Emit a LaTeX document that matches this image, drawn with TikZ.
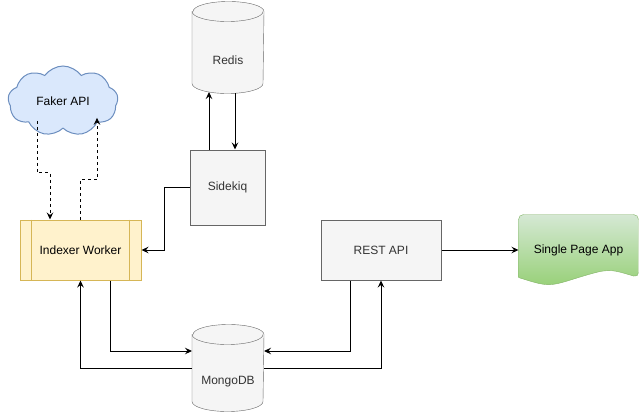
\documentclass[tikz,border=0pt]{standalone}
\usepackage{fontspec}
\setmainfont{Liberation Sans}
\usetikzlibrary{shapes.symbols,arrows.meta,backgrounds}
\definecolor{grayfill}{HTML}{F5F5F5}
\definecolor{grayline}{HTML}{666666}
\definecolor{graytext}{HTML}{333333}
\definecolor{cloudfill}{HTML}{DAE8FC}
\definecolor{cloudline}{HTML}{6C8EBF}
\definecolor{workerfill}{HTML}{FFF2CC}
\definecolor{workerline}{HTML}{D6B656}
\definecolor{spatop}{HTML}{D5E8D4}
\definecolor{spabottom}{HTML}{97D077}
\definecolor{spaline}{HTML}{82B366}
\begin{document}
\begin{tikzpicture}[x=1pt,y=-1pt,line width=1pt,
  font=\fontsize{12}{14}\selectfont,
  graybox/.style={draw=grayline,fill=grayfill,text=graytext,inner sep=0pt},
  dbbox/.style={inner sep=0pt,minimum width=71pt},
  arr/.style={-{Stealth[length=7pt,width=6.5pt,inset=2.5pt]}},
  dasharr/.style={arr,dash pattern=on 3pt off 3pt}]
\useasboundingbox (0,0) rectangle (639,415);

\node[dbbox,minimum height=91pt,label={[text=graytext,yshift=-12.5pt]center:Redis}] (redis) at (228,47.5) {};
\node[dbbox,minimum height=86pt,label={[text=graytext,yshift=-14pt]center:MongoDB}] (mongo) at (228,368) {};
\begin{scope}[on background layer]
\foreach \db in {redis,mongo} {
  \path[graybox] ([yshift=-10pt]\db.north west) -- ([yshift=10pt]\db.south west)
    arc[start angle=180,end angle=360,x radius=35.5pt,y radius=10pt]
    -- ([yshift=-10pt]\db.north east)
    arc[start angle=0,end angle=180,x radius=35.5pt,y radius=10pt] -- cycle;
  \draw[grayline] ([yshift=-10pt]\db.north west)
    arc[start angle=180,end angle=360,x radius=35.5pt,y radius=10pt];
}
\end{scope}
\node[graybox,minimum width=75pt,minimum height=75pt] (sidekiq) at (227.5,187.5) {Sidekiq};
\node[cloud,cloud puffs=9,cloud puff arc=110,aspect=1.6,draw=cloudline,fill=cloudfill,inner sep=0pt,minimum width=110pt,minimum height=70pt] (faker) at (63,101) {Faker API};
\node[draw=workerline,fill=workerfill,minimum width=121pt,minimum height=60pt] (indexer) at (80.5,250) {Indexer Worker};
\draw[workerline] ([xshift=12pt]indexer.north west) -- ([xshift=12pt]indexer.south west);
\draw[workerline] ([xshift=-12pt]indexer.north east) -- ([xshift=-12pt]indexer.south east);
\node[graybox,minimum width=120pt,minimum height=60pt] (rest) at (381,250) {REST API};
\node[minimum width=119pt,minimum height=70pt] (spa) at (578.5,250) {Single Page App};
\begin{scope}[on background layer]
\path[draw=spaline,top color=spatop,bottom color=spabottom] ([yshift=8pt]spa.south west) [rounded corners=5pt] -- (spa.north west) -- (spa.north east) -- ([yshift=8pt]spa.south east) [sharp corners]
  .. controls ([xshift=-30pt,yshift=17pt]spa.south east) .. ([yshift=8pt]spa.south)
  .. controls ([xshift=-30pt,yshift=-1.5pt]spa.south) .. ([yshift=8pt]spa.south west) -- cycle;
\end{scope}

\draw[arr] ([xshift=-18.5pt]sidekiq.north) -- ([xshift=-18.5pt,yshift=1.5pt]sidekiq.north |- redis.south);
\draw[arr] ([xshift=7pt,yshift=0.5pt]redis.south) -- ([xshift=7pt]redis.south |- sidekiq.north);
\draw[arr] (sidekiq.west) -- ++(-25,0) |- (indexer.east);
\draw[dasharr] ([xshift=-26pt,yshift=8pt]faker.south) -- ++(0,52) -| ([xshift=-30.5pt]indexer.north);
\draw[dasharr] ([xshift=-0.5pt]indexer.north) -- ++(0,-40) -| ([xshift=34pt,yshift=11pt]faker.south);
\draw[arr] ([xshift=29.5pt]indexer.south) |- ([yshift=17pt]mongo.west);
\draw[arr] (mongo.west) -| (indexer.south);
\draw[arr] ([xshift=-31pt]rest.south) |- ([yshift=17pt]mongo.east);
\draw[arr] (mongo.east) -| (rest.south);
\draw[arr] (rest.east) -- (spa.west);
\end{tikzpicture}
\end{document}
